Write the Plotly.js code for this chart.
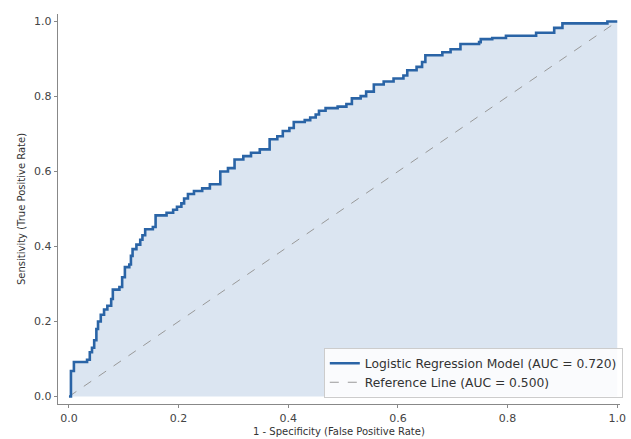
<!DOCTYPE html>
<html>
<head>
<meta charset="utf-8">
<script src="https://cdn.plot.ly/plotly-3.0.1.min.js"></script>
<style>html,body{margin:0;padding:0;background:#fff;}#chart{width:631px;height:439px;}</style>
</head>
<body>
<div id="chart"></div>
<script>
// ROC step points (fpr where a vertical jump happens, tpr after the jump)
const fpr = [0, 0.0036, 0.009, 0.033, 0.038, 0.042, 0.046, 0.05, 0.053, 0.058, 0.064, 0.07, 0.077, 0.08, 0.092, 0.097, 0.102, 0.11, 0.113, 0.116, 0.123, 0.13, 0.134, 0.139, 0.153, 0.158, 0.178, 0.19, 0.197, 0.205, 0.21, 0.217, 0.228, 0.243, 0.257, 0.276, 0.29, 0.302, 0.318, 0.332, 0.348, 0.366, 0.38, 0.39, 0.402, 0.41, 0.43, 0.44, 0.45, 0.456, 0.468, 0.49, 0.506, 0.516, 0.532, 0.542, 0.556, 0.574, 0.592, 0.61, 0.617, 0.634, 0.644, 0.65, 0.681, 0.696, 0.714, 0.748, 0.751, 0.772, 0.797, 0.852, 0.885, 0.9, 0.982, 1.0];
const tpr = [0, 0.068, 0.092, 0.098, 0.118, 0.13, 0.15, 0.18, 0.2, 0.218, 0.232, 0.242, 0.26, 0.285, 0.292, 0.318, 0.345, 0.352, 0.375, 0.393, 0.405, 0.418, 0.43, 0.446, 0.452, 0.483, 0.49, 0.498, 0.506, 0.515, 0.528, 0.54, 0.548, 0.555, 0.566, 0.6, 0.609, 0.632, 0.641, 0.65, 0.659, 0.686, 0.694, 0.708, 0.716, 0.732, 0.737, 0.744, 0.752, 0.762, 0.769, 0.773, 0.78, 0.795, 0.801, 0.813, 0.832, 0.84, 0.848, 0.856, 0.87, 0.879, 0.892, 0.91, 0.918, 0.926, 0.94, 0.945, 0.953, 0.956, 0.962, 0.97, 0.983, 0.995, 1.0, 1.0];
const refX = [0, 1];
const refY = [0, 1];
const modelName = "Logistic Regression Model (AUC = 0.720)";
const refName = "Reference Line (AUC = 0.500)";
const xTitle = "1 - Specificity (False Positive Rate)";
const yTitle = "Sensitivity (True Positive Rate)";
const tickVals = [0, 0.2, 0.4, 0.6, 0.8, 1.0];
const tickText = ["0.0", "0.2", "0.4", "0.6", "0.8", "1.0"];

const lineColor = "#2a64a6";
const font = "DejaVu Sans, sans-serif";

const data = [
  {x: fpr, y: tpr, type: "scatter", mode: "lines", line: {shape: "hv", width: 0}, fill: "tozeroy", fillcolor: "rgba(31,95,170,0.16)", showlegend: false, hoverinfo: "skip"},
  {x: refX, y: refY, type: "scatter", mode: "lines", name: refName, line: {color: "#999", width: 1, dash: "dash"}, legendrank: 2},
  {x: fpr, y: tpr, type: "scatter", mode: "lines", name: modelName, line: {color: lineColor, width: 2.6, shape: "hv"}, legendrank: 1}
];

const axisCommon = {
  showgrid: false, zeroline: false, showline: true, linecolor: "#888", linewidth: 1.4,
  ticks: "outside", ticklen: 3, tickcolor: "#888", tickwidth: 1,
  tickvals: tickVals, ticktext: tickText,
  tickfont: {family: font, size: 11, color: "#444"}
};

const layout = {
  width: 631, height: 439,
  margin: {l: 58, r: 8, t: 14, b: 35},
  paper_bgcolor: "#fff", plot_bgcolor: "#fff",
  font: {family: font, color: "#333"},
  xaxis: Object.assign({}, axisCommon, {
    range: [-0.02, 1.005]
  }),
  yaxis: Object.assign({}, axisCommon, {
    range: [-0.02, 1.02],
    title: {text: yTitle, font: {family: font, size: 10, color: "#333"}, standoff: 6}
  }),
  annotations: [{
    text: xTitle, xref: "paper", yref: "paper", x: 0.5, y: -0.0865,
    xanchor: "center", yanchor: "bottom", showarrow: false, borderpad: 0,
    font: {family: font, size: 10, color: "#333"}
  }],
  legend: {
    x: 1.005, xanchor: "right", y: 0.016, yanchor: "bottom",
    bgcolor: "rgba(255,255,255,0.85)", bordercolor: "#ccc", borderwidth: 1,
    font: {family: font, size: 12.3, color: "#333"},
    traceorder: "normal", tracegroupgap: 0
  },
  showlegend: true
};

Plotly.newPlot("chart", data, layout, {displayModeBar: false, staticPlot: true});
</script>
</body>
</html>
